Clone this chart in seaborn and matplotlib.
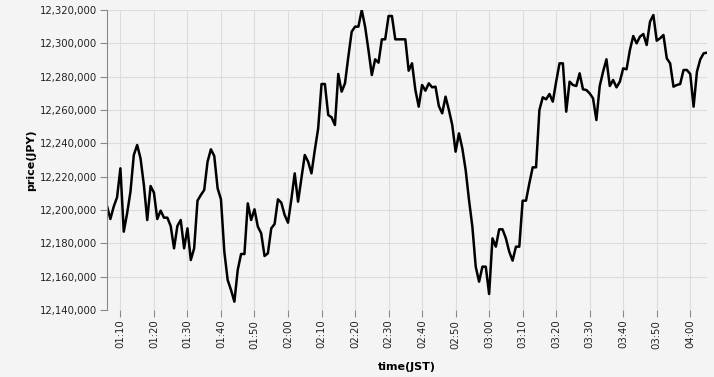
import matplotlib
matplotlib.use("Agg")
import matplotlib.pyplot as plt
import matplotlib.dates as mdates
import matplotlib.ticker as mticker
import seaborn as sns
import pandas as pd

# Per-minute prices from 01:06 to 04:05 (JST)
start_time = "2021-01-01 01:06"
prices = [
    12202400, 12194600, 12202000, 12207600, 12225000, 12187000, 12198000, 12211000, 12233000, 12239000,
    12231000, 12215000, 12194000, 12214400, 12210400, 12194600, 12199600, 12195400, 12195400, 12190400,
    12177000, 12190400, 12194000, 12177000, 12189000, 12170000, 12177000, 12205600, 12209000, 12212000,
    12229000, 12236400, 12232400, 12213000, 12206400, 12175000, 12158000, 12152000, 12145000, 12164000,
    12173600, 12173600, 12204000, 12194000, 12200400, 12190000, 12186000, 12172400, 12174000, 12189000,
    12191600, 12206400, 12204400, 12197000, 12192400, 12206400, 12222000, 12205000, 12219000, 12233000,
    12229000, 12222000, 12236000, 12249000, 12275600, 12275600, 12257000, 12255600, 12251000, 12281600,
    12271000, 12276000, 12292000, 12307000, 12310000, 12310000, 12320000, 12310000, 12296000, 12281000,
    12290400, 12288400, 12302400, 12302400, 12316400, 12316400, 12302400, 12302400, 12302400, 12302400,
    12283600, 12288000, 12272000, 12262000, 12275000, 12271600, 12276000, 12273600, 12274000, 12262400,
    12258000, 12268000, 12260000, 12251000, 12235000, 12246000, 12237000, 12224000, 12206000, 12190000,
    12166000, 12157000, 12166000, 12166000, 12149600, 12183000, 12178000, 12188400, 12188400, 12183000,
    12175000, 12169600, 12178000, 12178000, 12205600, 12205600, 12216000, 12225600, 12225600, 12260000,
    12267600, 12266400, 12269600, 12265000, 12277000, 12288000, 12288000, 12259000, 12277000, 12275000,
    12274400, 12282000, 12272400, 12272000, 12270000, 12267000, 12254000, 12274400, 12283000, 12290400,
    12274400, 12278000, 12273600, 12277000, 12285000, 12284400, 12296000, 12304400, 12300000, 12304000,
    12305600, 12299000, 12313000, 12317000, 12301600, 12303000, 12305000, 12291000, 12288000, 12274000,
    12275000, 12275600, 12284000, 12284000, 12281600, 12262000, 12283000, 12290400, 12294000, 12294400,
]
times = pd.date_range(start_time, periods=len(prices), freq="min")
y_ticks = list(range(12140000, 12320001, 20000))

df = pd.DataFrame({"time": times, "price": prices})

bg = "#f4f4f4"
sns.set_theme(style="whitegrid")
plt.rcParams["font.family"] = ["DejaVu Sans"]

fig = plt.figure(figsize=(7.14, 3.77), dpi=100, facecolor=bg)
ax = fig.add_axes([107 / 714, 1 - 310 / 377, 600 / 714, 300 / 377])
ax.set_facecolor(bg)

sns.lineplot(data=df, x="time", y="price", ax=ax, color="black", linewidth=1.8)

ax.set_xlim(times[0], times[-1])
ax.set_ylim(y_ticks[0], y_ticks[-1])
ax.set_yticks(y_ticks)
ax.yaxis.set_major_formatter(mticker.FuncFormatter(lambda v, p: f"{int(round(v)):,}"))
ax.xaxis.set_major_locator(mdates.MinuteLocator(byminute=range(0, 60, 10)))
ax.xaxis.set_major_formatter(mdates.DateFormatter("%H:%M"))

ax.grid(True, color="#dddddd", linewidth=0.8)
ax.set_axisbelow(True)
for s in ["top", "right", "bottom"]:
    ax.spines[s].set_visible(False)
ax.spines["left"].set_color("#888888")
ax.spines["left"].set_linewidth(0.8)

ax.tick_params(axis="both", which="major", length=5, width=0.8, color="#888888",
               labelsize=7.3, labelcolor="#222222", pad=2, left=True, bottom=True)
plt.setp(ax.get_xticklabels(), rotation=90)

ax.set_xlabel("time(JST)", fontsize=8, fontweight="bold", color="#000000", labelpad=10)
ax.set_ylabel("price(JPY)", fontsize=8, fontweight="bold", color="#000000", labelpad=3)

fig.savefig("out.png", dpi=100, facecolor=bg)
